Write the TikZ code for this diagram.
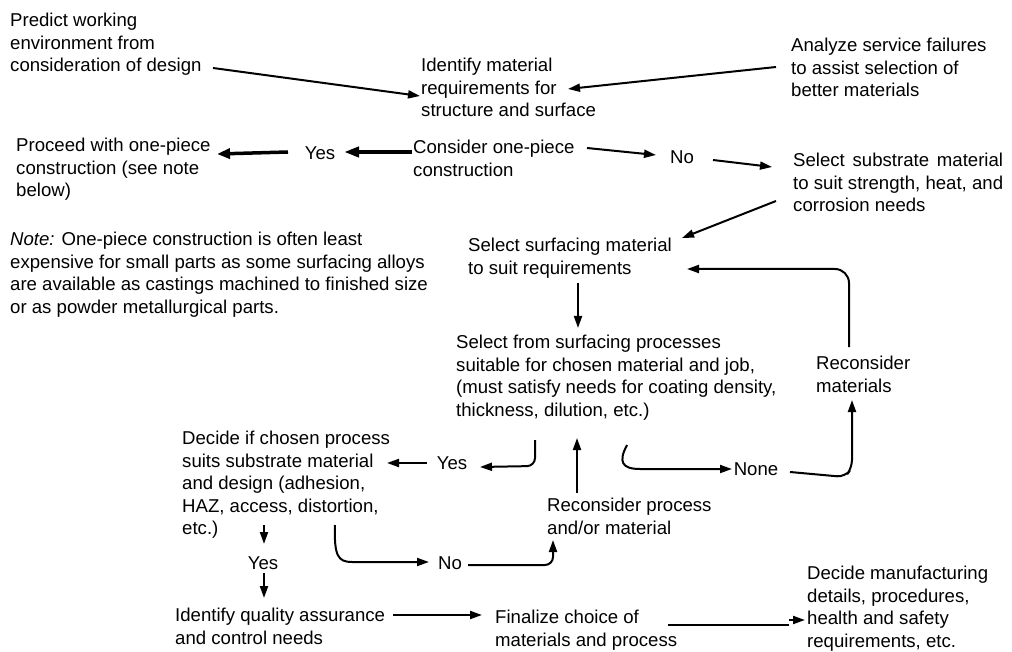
\documentclass[tikz,border=0pt]{standalone}
\usepackage{fontspec}
\setmainfont{Liberation Sans}
\usepackage{calc}
\usetikzlibrary{arrows.meta}
\begin{document}
\begin{tikzpicture}[x=1pt,y=-1pt,
  txt/.style={font=\fontsize{18.6}{22.5}\selectfont, inner sep=0pt, align=left, anchor=north west},
  lbl/.style={font=\fontsize{18.6}{22.5}\selectfont, inner sep=0pt, anchor=center},
  conn/.style={line width=2pt, -{Triangle[length=12pt,width=8pt]}},
  plainline/.style={line width=2pt}
]
\useasboundingbox[fill=white] (0,0) rectangle (1012,652);

% text nodes
\node[txt] (pred) at (10,13.3) {Predict working\\environment from\\consideration of design};
\node[txt] (ident) at (421,58.3) {Identify material\\requirements for\\structure and surface};
\node[txt] (analyze) at (791,38.3) {Analyze service failures\\to assist selection of\\better materials};
\node[txt] (consider) at (413,140.3) {Consider one-piece\\construction};
\node[txt] (proceed) at (16,138.3) {Proceed with one-piece\\construction (see note\\below)};
\node[lbl] (yes1) at (320,153) {Yes};
\node[lbl] (no1) at (682,157) {No};
\node[txt] (substrate) at (793,153.3) {\makebox[\widthof{to suit strength, heat, and}][s]{Select substrate material}\\to suit strength, heat, and\\corrosion needs};
\node[txt] (note) at (10,232.3) {\textit{Note:} One-piece construction is often least\\expensive for small parts as some surfacing alloys\\are available as castings machined to finished size\\or as powder metallurgical parts.};
\node[txt] (surfacing) at (468,238.3) {Select surfacing material\\to suit requirements};
\node[txt] (selfrom) at (456,335.3) {Select from surfacing processes\\suitable for chosen material and job,\\(must satisfy needs for coating density,\\thickness, dilution, etc.)};
\node[txt] (recmat) at (816,356.3) {Reconsider\\materials};
\node[txt] (decide) at (182,431.3) {Decide if chosen process\\suits substrate material\\and design (adhesion,\\HAZ, access, distortion,\\etc.)};
\node[lbl] (yes2) at (452,463) {Yes};
\node[lbl] (none) at (756,469) {None};
\node[txt] (recproc) at (547,498.3) {Reconsider process\\and/or material};
\node[lbl] (yes3) at (263,563) {Yes};
\node[lbl] (no2) at (450,563) {No};
\node[txt] (qual) at (175,608.3) {Identify quality assurance\\and control needs};
\node[txt] (final) at (495,610.3) {Finalize choice of\\materials and process};
\node[txt] (manuf) at (807,566.3) {Decide manufacturing\\details, procedures,\\health and safety\\requirements, etc.};

% connector end points
\coordinate (pred-out) at (213,68);
\coordinate (ident-in1) at (420,96);
\coordinate (analyze-out) at (776,67);
\coordinate (ident-in2) at (568,89);
\coordinate (consider-outL) at (412,152);
\coordinate (yes1-in) at (344,152);
\coordinate (yes1-out) at (288,152);
\coordinate (proceed-in) at (217,154);
\coordinate (consider-outR) at (587,148);
\coordinate (no1-in) at (656,155);
\coordinate (no1-out) at (713,160);
\coordinate (substrate-in) at (772,167);
\coordinate (substrate-out) at (776,201);
\coordinate (surfacing-in1) at (682,238);
\coordinate (surfacing-out) at (578,283);
\coordinate (selfrom-in1) at (578,328);
\coordinate (recmat-out) at (849,347);
\coordinate (surfacing-in2) at (687,269);
\coordinate (selfrom-outY) at (535,440);
\coordinate (yes2-in) at (480,467);
\coordinate (yes2-out) at (427,463);
\coordinate (decide-in) at (387,463);
\coordinate (recproc-out) at (577,493);
\coordinate (selfrom-in2) at (577,438);
\coordinate (selfrom-outN) at (627,445);
\coordinate (none-in) at (732,469);
\coordinate (none-out) at (790,472);
\coordinate (recmat-in) at (852,400);
\coordinate (decide-outY) at (264,525);
\coordinate (yes3-in) at (264,544);
\coordinate (yes3-out) at (264,573);
\coordinate (qual-in) at (264,598);
\coordinate (decide-outN) at (335,525);
\coordinate (no2-in) at (429,562);
\coordinate (no2-out) at (468,565);
\coordinate (recproc-in) at (553,540);
\coordinate (qual-out) at (393,615);
\coordinate (final-in) at (482,615);
\coordinate (final-out) at (668,625);
\coordinate (final-end) at (789,625);
\coordinate (manuf-head) at (789,620);
\coordinate (manuf-in) at (805,620);

% connectors
\draw[conn] (pred-out) -- (ident-in1);
\draw[conn] (analyze-out) -- (ident-in2);
\draw[line width=4.5pt, -{Triangle[length=15pt,width=10pt]}] (consider-outL) -- (yes1-in);
\draw[line width=3.5pt, -{Triangle[length=13pt,width=10pt]}] (yes1-out) -- (proceed-in);
\draw[conn] (consider-outR) -- (no1-in);
\draw[conn] (no1-out) -- (substrate-in);
\draw[conn] (substrate-out) -- (surfacing-in1);
\draw[conn] (surfacing-out) -- (selfrom-in1);
\draw[conn, rounded corners=14pt] (recmat-out) -- (849,269) -- (surfacing-in2);
\draw[conn, rounded corners=8pt] (selfrom-outY) -- (535,466) -- (yes2-in);
\draw[conn] (yes2-out) -- (decide-in);
\draw[conn] (recproc-out) -- (selfrom-in2);
\draw[conn] (selfrom-outN) .. controls (618,462) and (622,469) .. (640,469) -- (none-in);
\draw[conn, rounded corners=8pt] (none-out) -- (845,477) -- (852,468) -- (recmat-in);
\draw[conn] (decide-outY) -- (yes3-in);
\draw[conn] (yes3-out) -- (qual-in);
\draw[conn] (decide-outN) .. controls (334,556) and (338,562) .. (352,562) -- (no2-in);
\draw[conn, rounded corners=8pt] (no2-out) -- (553,565) -- (recproc-in);
\draw[conn] (qual-out) -- (final-in);
\draw[plainline] (final-out) -- (final-end);
\draw[conn] (manuf-head) -- (manuf-in);
\end{tikzpicture}
\end{document}
